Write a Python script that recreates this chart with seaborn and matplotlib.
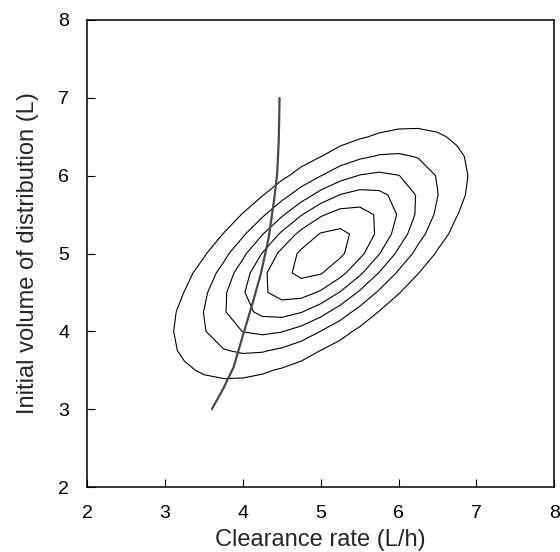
import numpy as np
import pandas as pd
import matplotlib
matplotlib.use("Agg")
import matplotlib.pyplot as plt
import seaborn as sns

# Bivariate normal describing the joint distribution
cl_mean = 5.0      # clearance rate centre (L/h)
v_mean = 5.0       # initial volume centre (L)
cl_sd = 1.0
v_sd = 0.85
rho = 0.63
# contour levels as fraction of peak density
level_frac = [0.17, 0.32, 0.47, 0.62, 0.77, 0.92]

# Constraint curve (clearance vs volume)
curve_cl = [3.60, 3.74, 3.88, 4.00, 4.12, 4.23, 4.33, 4.40, 4.44, 4.46, 4.47]
curve_v = [3.00, 3.25, 3.54, 3.95, 4.35, 4.74, 5.20, 5.69, 6.03, 6.46, 7.00]

ticks = [2, 3, 4, 5, 6, 7, 8]

sns.set_theme(style="ticks")
plt.rcParams['font.family'] = ['Liberation Sans', 'DejaVu Sans']

fig = plt.figure(figsize=(5.6, 5.52), dpi=100)
ax = fig.add_axes([87.3 / 560, 1 - 487 / 552, (554.3 - 87.3) / 560, (487 - 20) / 552])

# density on a coarse grid
gx = np.linspace(2, 8, 25)
gy = np.linspace(2, 8, 25)
X, Y = np.meshgrid(gx, gy)
zx = (X - cl_mean) / cl_sd
zy = (Y - v_mean) / v_sd
Q = (zx ** 2 - 2 * rho * zx * zy + zy ** 2) / (1 - rho ** 2)
Z = np.exp(-0.5 * Q)
ax.contour(X, Y, Z, levels=level_frac, colors='black', linewidths=0.8)

df = pd.DataFrame({"cl": curve_cl, "v": curve_v})
sns.lineplot(data=df, x="cl", y="v", sort=False, estimator=None,
             color="#4a4a4a", linewidth=1.6, ax=ax)

ax.set_xlim(2, 8)
ax.set_ylim(2, 8)
ax.set_xticks(ticks)
ax.set_yticks(ticks)
ax.set_xticklabels([str(t) for t in ticks], fontsize=14)
ax.set_yticklabels([str(t) for t in ticks], fontsize=14)
ax.tick_params(direction='in', length=5.5, width=0.8, pad=13,
               colors='black', top=False, right=False)
for s in ax.spines.values():
    s.set_visible(True)
    s.set_linewidth(1.1)
    s.set_color('black')

ax.set_xlabel("Clearance rate (L/h)", fontsize=17, labelpad=5)
ax.set_ylabel("Initial volume of distribution (L)", fontsize=17, labelpad=14)

fig.savefig("out.png", dpi=100)
